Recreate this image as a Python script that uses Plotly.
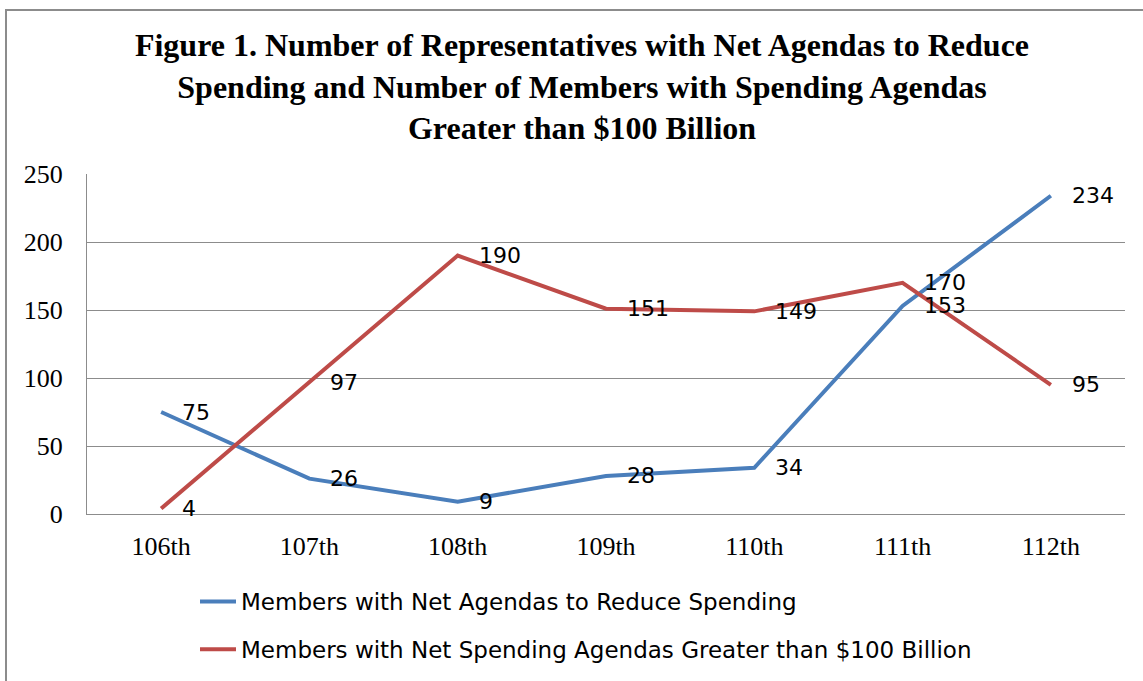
import plotly.graph_objects as go

congresses = ["106th", "107th", "108th", "109th", "110th", "111th", "112th"]
reduce_spending = [75, 26, 9, 28, 34, 153, 234]
spending_over_100b = [4, 97, 190, 151, 149, 170, 95]
series_names = [
    "Members with Net Agendas to Reduce Spending",
    "Members with Net Spending Agendas Greater than $100 Billion",
]
y_ticks = [0, 50, 100, 150, 200, 250]

W, H = 1143, 681
L, R, T, B = 87, 18, 174, 167
pw, ph = W - L - R, H - T - B

blue = "#4A7EBB"
red = "#BE4B48"
grid = "#8C8C8C"

fig = go.Figure()
for name, vals, col, grp in [
    (series_names[0], reduce_spending, blue, "a"),
    (series_names[1], spending_over_100b, red, "b"),
]:
    fig.add_trace(go.Scatter(
        x=congresses, y=vals, mode="lines", name=name,
        line=dict(color=col, width=4), legendgroup=grp,
        hoverinfo="skip",
    ))

annotations = []
for vals in (reduce_spending, spending_over_100b):
    for c, v in zip(congresses, vals):
        annotations.append(dict(
            x=c, y=v, xref="x", yref="y", text=str(v), showarrow=False,
            xanchor="left", yanchor="middle", xshift=19,
            font=dict(family="DejaVu Sans", size=22, color="#000000"),
        ))

def px_x(p):
    return (p - L) / pw

def px_y(p):
    return (H - B - p) / ph

fig.update_layout(
    width=W, height=H,
    margin=dict(l=L, r=R, t=T, b=B, autoexpand=False),
    paper_bgcolor="white", plot_bgcolor="white",
    title=dict(
        text="Figure 1. Number of Representatives with Net Agendas to Reduce<br>"
             "Spending and Number of Members with Spending Agendas<br>"
             "Greater than $100 Billion",
        x=px_x(582), xanchor="center", xref="paper",
        y=1 - 56 / H, yanchor="top",
        font=dict(family="Liberation Serif", size=32, color="#000000", weight="bold"),
    ),
    xaxis=dict(
        type="category", range=[-0.5, 6.5], showgrid=False, zeroline=False,
        showline=True, linecolor=grid, linewidth=1, ticks="",
        tickfont=dict(family="Liberation Serif", size=26, color="#000000"),
        ticklabelstandoff=9, automargin=False,
    ),
    yaxis=dict(
        range=[0, 250], tickvals=y_ticks, showgrid=True, gridcolor=grid,
        gridwidth=1, zeroline=False, showline=True, linecolor=grid,
        linewidth=1, ticks="",
        tickfont=dict(family="Liberation Serif", size=26, color="#000000"),
        ticklabelstandoff=18, automargin=False,
    ),
    legend=dict(
        xref="container", yref="container",
        x=195 / W, xanchor="left", y=1 - 580 / H, yanchor="top",
        font=dict(family="DejaVu Sans", size=23, color="#000000"),
        tracegroupgap=15, bgcolor="rgba(0,0,0,0)", itemwidth=36,
    ),
    showlegend=True,
    annotations=annotations,
    shapes=[dict(
        type="rect", xref="paper", yref="paper",
        x0=px_x(6), x1=px_x(1160), y0=px_y(700), y1=px_y(10),
        line=dict(color="#8C8C8C", width=2), fillcolor="rgba(0,0,0,0)",
        layer="below",
    )],
)

fig.write_html("out.html")
